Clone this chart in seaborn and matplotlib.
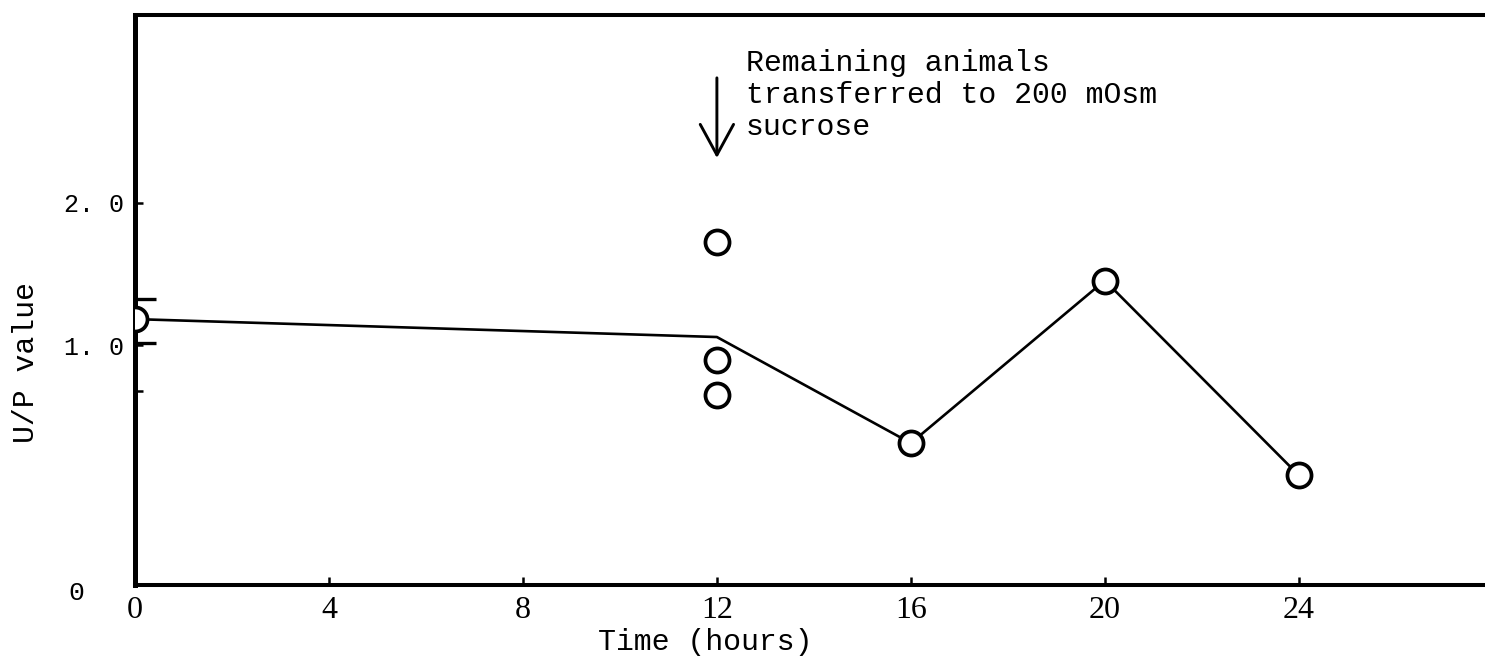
import numpy as np
import pandas as pd
import matplotlib
matplotlib.use("Agg")
import matplotlib.pyplot as plt
from matplotlib.ticker import NullLocator
import seaborn as sns

# Mean U/P value of the group over time (line)
line_hours = [0, 12, 16, 20, 24]
line_up = [1.135, 1.04, 0.62, 1.37, 0.53]

# Points drawn as open circles on the mean line
mean_hours = [0, 16, 20, 24]
mean_up = [1.135, 0.62, 1.37, 0.53]

# Individual animals sampled at 12 h
animal_hours = [12, 12, 12]
animal_up = [1.65, 0.93, 0.785]

# Spread of the starting value
start_hour = [0]
start_up = [1.135]
start_err_low = [0.125]
start_err_high = [0.115]

x_ticks = [0, 4, 8, 12, 16, 20, 24]
x_tick_labels = ["0", "4", "8", "12", "16", "20", "24"]
y_ticks = [0.8, 1.0, 2.0]
y_tick_labels = ["", "1. 0", "2. 0"]

arrow_hour = 12
arrow_from = 3.68
arrow_to = 2.49
note = "Remaining animals\ntransferred to 200 mOsm\nsucrose"

sns.set_theme(style="ticks")
plt.rcParams["font.family"] = ["Liberation Mono", "DejaVu Sans"]

W, H = 1485, 666
fig = plt.figure(figsize=(W / 100, H / 100), dpi=100)
ax = fig.add_axes([135 / W, 1 - 585 / H, 1 - 135 / W, (585 - 15) / H])

line_df = pd.DataFrame({"hours": line_hours, "up": line_up})
mean_df = pd.DataFrame({"hours": mean_hours, "up": mean_up})
animal_df = pd.DataFrame({"hours": animal_hours, "up": animal_up})

sns.lineplot(data=line_df, x="hours", y="up", ax=ax, color="black",
             linewidth=1.9, estimator=None, sort=False, zorder=2)
ax.errorbar(start_hour, start_up, yerr=[start_err_low, start_err_high],
            fmt="none", ecolor="black", elinewidth=1.5, capsize=15,
            capthick=2.4, zorder=2)
for df in (mean_df, animal_df):
    sns.scatterplot(data=df, x="hours", y="up", ax=ax, marker="o", s=300,
                    facecolor="white", edgecolor="black", linewidth=2.7,
                    zorder=3)

ax.set_yscale("log")
ax.set_xlim(0, 27.84)
ax.set_ylim(0.3104, 5.0)
ax.set_xticks(x_ticks)
ax.set_xticklabels(x_tick_labels, fontfamily="Liberation Serif", fontsize=23)
ax.set_yticks(y_ticks)
ax.set_yticklabels(y_tick_labels, fontsize=18)
ax.yaxis.set_minor_locator(NullLocator())
ax.tick_params(axis="both", direction="in", length=6, width=1.8,
               color="black", labelcolor="black")
ax.tick_params(axis="x", pad=8)
ax.tick_params(axis="y", pad=8)

for side in ("left", "bottom", "top"):
    ax.spines[side].set_color("black")
ax.spines["left"].set_linewidth(3.6)
ax.spines["bottom"].set_linewidth(2.9)
ax.spines["top"].set_linewidth(2.9)
ax.spines["right"].set_visible(False)

ax.set_xlabel("Time (hours)", fontsize=21.5, color="black")
ax.set_ylabel("U/P value", fontsize=21.5, color="black")
ax.xaxis.set_label_coords((705 - 135) / 1350, (585 - 628) / 570)
ax.yaxis.set_label_coords((40 - 135) / 1350, (585 - 363) / 570)

ax.text((76 - 135) / 1350, (585 - 593) / 570, "0", transform=ax.transAxes,
        ha="center", va="center", fontsize=19, color="black")

ax.annotate("", xy=(arrow_hour, arrow_to), xytext=(arrow_hour, arrow_from),
            arrowprops=dict(arrowstyle="->, head_length=1.1, head_width=0.6",
                            color="black", linewidth=2.1, mutation_scale=20,
                            shrinkA=0, shrinkB=0))
ax.text((746 - 135) / 1350, (585 - 49) / 570, note, transform=ax.transAxes,
        ha="left", va="top", fontsize=21.5, color="black", linespacing=1.18)

fig.savefig("out.png", dpi=100, facecolor="white")
